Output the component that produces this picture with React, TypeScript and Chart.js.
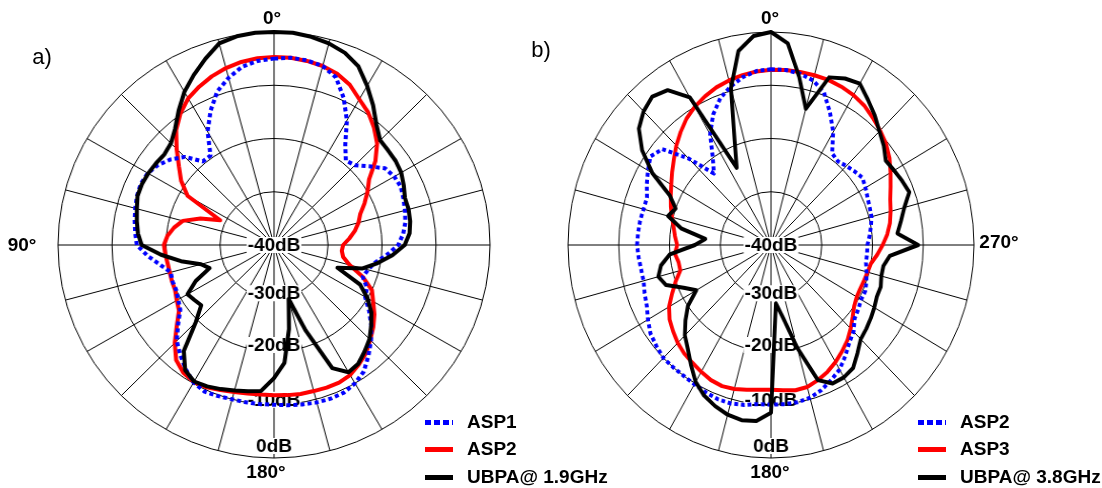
import React, { useEffect, useRef } from 'react';
import { Chart, registerables } from 'chart.js';

Chart.register(...registerables);

// angles (degrees, counter-clockwise from top) every 5 degrees
const ANGLES: number[] = [
  0, 5, 10, 15, 20, 25, 30, 35, 40, 45, 50, 55, 60, 65, 70, 75, 80, 85,
  90, 95, 100, 105, 110, 115, 120, 125, 130, 135, 140, 145, 150, 155, 160, 165, 170, 175,
  180, 185, 190, 195, 200, 205, 210, 215, 220, 225, 230, 235, 240, 245, 250, 255, 260, 265,
  270, 275, 280, 285, 290, 295, 300, 305, 310, 315, 320, 325, 330, 335, 340, 345, 350, 355,
];

const RING_VALUES = [-40, -30, -20, -10, 0];
const RING_LABELS = ['-40dB', '-30dB', '-20dB', '-10dB', '0dB'];

// ---- plot a) 1.9 GHz ----
const A_ASP1 = [
  -5, -5.3, -6, -7.5, -9.3, -12.2, -15.4, -19.5, -19.5, -16.6, -15, -13.8, -13, -12.8, -13, -13.4, -13.8, -14.2,
  -14.6, -16.5, -18.6, -20.2, -20, -20, -19.5, -18.8, -16.8, -14.5, -13, -11.5, -10.2, -9.6, -9.8, -10, -10, -10,
  -10, -9.8, -9.6, -9.4, -9.3, -9.4, -10, -11, -12.8, -14.6, -16.5, -18.5, -20.5, -21, -22.5, -22, -21, -19,
  -17, -16, -15.3, -14.9, -14.5, -14.1, -14.3, -14.9, -17, -18.8, -19.3, -17, -13, -9.5, -6.5, -5.2, -4.8, -4.7,
];
const A_ASP2 = [
  -4.7, -4.8, -5.1, -5.6, -6.3, -7.2, -8.2, -9.8, -11.8, -14.5, -17, -19, -21.5, -29, -25.5, -22.5, -21.2, -20.2,
  -19.6, -19.8, -20, -20, -19.9, -19.8, -19.2, -18.5, -16.5, -14, -11.8, -10.7, -10.3, -10.5, -11, -11.4, -11.7, -11.8,
  -11.8, -11.7, -11.6, -11.6, -11.5, -11.5, -11.8, -12.6, -13.5, -14.8, -16, -17.3, -18.8, -20, -22.5, -25.5, -27, -27.4,
  -27.2, -26, -24.8, -23.8, -23, -21.5, -20, -18.5, -15.5, -13, -11.2, -9.6, -8.4, -6.8, -5.8, -5.2, -4.9, -4.7,
];
const A_UBPA = [
  0, 0, -0.2, -0.8, -2.8, -4.8, -6.8, -9.2, -11.5, -13, -13.5, -13.3, -13.1, -13, -13.1, -13.7, -14.2, -14.7,
  -15.5, -19, -22.5, -26, -27.3, -24, -21.5, -22, -22.4, -19.5, -14, -11.3, -10.4, -10.7, -11.2, -11.7, -12.1, -12.5,
  -15, -17.8, -24, -29.5, -23, -14.5, -12.4, -12.8, -13.9, -15, -16.5, -18, -20, -22.4, -27.5, -23, -20.5, -18,
  -15.8, -14.8, -14.4, -14.2, -14.2, -13.5, -12.8, -12.5, -12.4, -12.2, -10.5, -8, -5.5, -3, -1.6, -0.8, -0.3, 0,
];

// ---- plot b) 3.8 GHz ----
const B_ASP2 = [
  -7, -7.2, -8, -9.2, -10.7, -13, -16, -20, -22.5, -17, -12, -11, -12, -13, -14, -14, -13.8, -13.7,
  -13.6, -13.8, -14, -14, -13.5, -13, -12, -11, -10.5, -10, -10, -10, -9.8, -9.5, -9.2, -9.2, -9.5, -10,
  -10, -10, -10, -10.3, -11, -12, -13, -14.5, -16, -17, -18.5, -19, -19.5, -19.5, -20, -20.5, -21, -21,
  -21, -20.5, -20, -19.5, -19.3, -19, -18.5, -18, -18.5, -19, -19.5, -19, -15.5, -12.5, -9.5, -8, -7.3, -7,
];
const B_ASP3 = [
  -7.1, -7.3, -7.6, -8, -8.5, -9.2, -10, -11, -12.3, -13.6, -15, -16.2, -17.3, -18.2, -19, -19.8, -20.5, -21,
  -21.5, -21, -21.5, -21.5, -20, -18.5, -16.8, -15.6, -14.8, -14, -13.4, -13, -12.5, -12, -11.8, -12, -12.4, -12.7,
  -12.8, -12.6, -12.3, -12.4, -13, -13.7, -14.6, -15.6, -16.6, -17.8, -19, -20, -20.5, -20.6, -20.5, -20.3, -20, -19,
  -18, -17, -16.2, -15.6, -15, -14, -12.8, -11.5, -10.4, -9.6, -8.8, -8, -7.5, -7.2, -7, -7, -7, -7,
];
const B_UBPA = [
  0, -0.6, -3, -9.5, -19, -24, -8, -4.5, -3.6, -4.5, -6, -9, -13, -18, -20, -19, -22, -27,
  -25, -20, -18, -17, -18, -21, -23, -20, -18, -16, -14.5, -12.5, -10.3, -8.8, -7.8, -7, -6.6, -6.8,
  -8.5, -29, -26, -20, -13, -11.3, -11.3, -11.8, -13.5, -15, -15.5, -16, -16.5, -17, -17, -17.5, -17.5, -16.5,
  -11, -15, -14, -12.8, -11, -11.5, -12, -12.4, -11, -9.8, -8.2, -6.7, -5, -5.5, -6.5, -13.5, -8, -2,
];

const ANGLE_TEXT = ['0°', '90°', '180°', '270°'];

const FONT = '"Liberation Sans", Arial, Helvetica, sans-serif';

const ringLabelPlugin = {
  id: 'ringLabels',
  beforeDatasetsDraw(chart: any, _args: any, opts: any) {
    const scale = chart.scales.r;
    const ctx = chart.ctx;
    const sx = (opts && opts.sx) || 1;
    const shifts = [0, -5, -6.5, -5, -12];
    ctx.save();
    ctx.font = 'bold 19px ' + FONT;
    ctx.textAlign = 'center';
    ctx.textBaseline = 'middle';
    RING_VALUES.forEach((v, i) => {
      const r = scale.getDistanceFromCenterForValue(v);
      const x = scale.xCenter;
      const y = scale.yCenter + r + shifts[i];
      const w = ctx.measureText(RING_LABELS[i]).width;
      ctx.save();
      ctx.translate(x, y);
      ctx.scale(1 / sx, 1);
      ctx.fillStyle = '#ffffff';
      ctx.fillRect(-w / 2 - 1, -8, w + 2, 16);
      ctx.fillStyle = '#000000';
      ctx.fillText(RING_LABELS[i], 0, 1);
      ctx.restore();
    });
    ctx.restore();
  },
};

function toRadar(values: number[]) {
  // radar runs clockwise; the reference runs counter-clockwise
  const n = ANGLES.length;
  return ANGLES.map((_, i) => values[(n - i) % n]);
}

type PolarProps = {
  left: number;
  padLeft: number;
  padRight: number;
  sx: number;
  originX: number;
  series: { label: string; values: number[]; color: string; dash?: number[] }[];
};

function PolarPlot({ left, padLeft, padRight, sx, originX, series }: PolarProps) {
  const ref = useRef<HTMLCanvasElement>(null);
  useEffect(() => {
    if (!ref.current) return;
    const n = ANGLES.length;
    const labels = ANGLES.map((_, i) => String(ANGLES[(n - i) % n]));
    const chart = new Chart(ref.current, {
      type: 'radar',
      data: {
        labels,
        datasets: series.map((s) => ({
          label: s.label,
          data: toRadar(s.values),
          borderColor: s.color,
          backgroundColor: s.color,
          borderWidth: 4,
          borderDash: s.dash || [],
          borderCapStyle: 'butt',
          borderJoinStyle: 'round',
          pointRadius: 0,
          pointHoverRadius: 0,
          fill: false,
          tension: 0,
          clip: false,
        })) as any,
      },
      options: {
        responsive: false,
        animation: false,
        events: [],
        layout: { padding: { left: padLeft, right: padRight, top: 32, bottom: 30 } },
        plugins: {
          legend: { display: false },
          tooltip: { enabled: false },
          ringLabels: { sx },
        } as any,
        scales: {
          r: {
            min: -40,
            max: 0,
            startAngle: 0,
            ticks: { display: false, stepSize: 10 },
            grid: { circular: true, color: '#000000', lineWidth: 1 },
            angleLines: {
              display: true,
              lineWidth: 1,
              color: (ctx: any) => (ctx.index % 3 === 0 ? '#000000' : 'rgba(0,0,0,0)'),
            },
            pointLabels: { display: false },
          },
        },
      } as any,
      plugins: [ringLabelPlugin],
    });
    return () => chart.destroy();
  }, []);
  return (
    <canvas
      ref={ref}
      width={551}
      height={488}
      style={{
        position: 'absolute',
        left,
        top: 0,
        transform: `scaleX(${sx})`,
        transformOrigin: `${originX}px 245px`,
      }}
    />
  );
}

const txt = (x: number, y: number, s: string, extra: any = {}) => (
  <div
    style={{
      position: 'absolute',
      left: x,
      top: y,
      transform: 'translate(-50%, -50%)',
      font: 'bold 19px ' + FONT,
      whiteSpace: 'nowrap',
      color: '#000',
      ...extra,
    }}
  >
    {s}
  </div>
);

function Legend({ x, names }: { x: number; names: string[] }) {
  const colors = ['#0000ff', '#ff0000', '#000000'];
  const ys = [422, 449, 477];
  return (
    <>
      {names.map((n, i) => (
        <React.Fragment key={n}>
          <div
            style={{
              position: 'absolute',
              left: x,
              top: ys[i] - 2.5,
              width: 28,
              height: 5,
              background:
                i === 0
                  ? `repeating-linear-gradient(to right, ${colors[i]} 0px, ${colors[i]} 6px, transparent 6px, transparent 9px)`
                  : colors[i],
            }}
          />
          <div
            style={{
              position: 'absolute',
              left: x + 42,
              top: ys[i],
              transform: 'translateY(-50%)',
              font: 'bold 19px ' + FONT,
              whiteSpace: 'nowrap',
            }}
          >
            {n}
          </div>
        </React.Fragment>
      ))}
    </>
  );
}

export default function App() {
  return (
    <div style={{ position: 'absolute', left: 0, top: 0, width: 1102, height: 488, background: '#fff', overflow: 'hidden' }}>
      <PolarPlot
        left={0}
        padLeft={61}
        padRight={64}
        sx={216 / 213}
        originX={274}
        series={[
          { label: 'UBPA@ 1.9GHz', values: A_UBPA, color: '#000000' },
          { label: 'ASP1', values: A_ASP1, color: '#0000ff', dash: [4, 3] },
          { label: 'ASP2', values: A_ASP2, color: '#ff0000' },
        ]}
      />
      <PolarPlot
        left={551}
        padLeft={7}
        padRight={118}
        sx={203 / 213}
        originX={220}
        series={[
          { label: 'UBPA@ 3.8GHz', values: B_UBPA, color: '#000000' },
          { label: 'ASP2', values: B_ASP2, color: '#0000ff', dash: [4, 3] },
          { label: 'ASP3', values: B_ASP3, color: '#ff0000' },
        ]}
      />
      {txt(42, 57, 'a)', { font: '22px ' + FONT })}
      {txt(541, 50, 'b)', { font: '22px ' + FONT })}
      {txt(272, 18, ANGLE_TEXT[0])}
      {txt(22, 245, ANGLE_TEXT[1])}
      {txt(266, 472, ANGLE_TEXT[2])}
      {txt(770, 18, ANGLE_TEXT[0])}
      {txt(999, 242, ANGLE_TEXT[3])}
      {txt(770, 472, ANGLE_TEXT[2])}
      <Legend x={425} names={['ASP1', 'ASP2', 'UBPA@ 1.9GHz']} />
      <Legend x={918} names={['ASP2', 'ASP3', 'UBPA@ 3.8GHz']} />
    </div>
  );
}
